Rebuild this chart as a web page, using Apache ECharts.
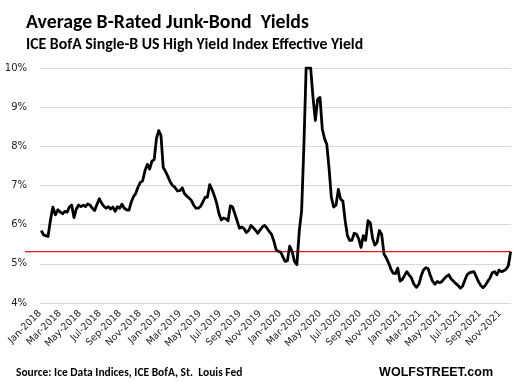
<!DOCTYPE html>
<html><head><meta charset="utf-8">
<script src="https://cdn.jsdelivr.net/npm/echarts@6/dist/echarts.min.js"></script>
<style>html,body{margin:0;padding:0;background:#fff}#c{width:518px;height:383px}</style>
</head><body><div id="c"></div>
<script>
// Weekly observations starting 2018-01-05 (one value per week)
const startDate = [2018, 0, 5];
const yields = [
5.85,5.74,5.72,5.70,6.10,6.45,6.25,6.38,6.32,6.28,
6.34,6.32,6.45,6.50,6.18,6.40,6.50,6.46,6.50,6.46,
6.53,6.50,6.42,6.36,6.52,6.66,6.55,6.47,6.42,6.46,
6.40,6.45,6.34,6.46,6.42,6.52,6.42,6.38,6.37,6.58,
6.72,6.80,6.96,7.08,7.12,7.38,7.54,7.42,7.62,7.66,
8.20,8.40,8.28,7.46,7.36,7.24,7.10,7.00,6.95,6.86,
6.87,6.94,6.79,6.73,6.68,6.62,6.50,6.42,6.42,6.47,
6.58,6.70,6.70,7.02,6.90,6.74,6.55,6.28,6.12,6.17,
6.15,6.10,6.48,6.45,6.28,6.10,5.91,5.94,5.90,5.80,
5.85,5.98,5.92,5.86,5.78,5.86,5.94,5.98,5.91,5.82,
5.75,5.58,5.36,5.32,5.30,5.18,5.06,5.08,5.45,5.32,
5.06,4.98,5.85,6.35,8.00,10.00,10.00,10.00,9.25,8.66,
9.20,9.25,8.45,8.20,8.05,7.45,6.70,6.45,6.50,6.90,
6.65,6.60,6.10,5.72,5.60,5.60,5.78,5.76,5.64,5.42,
5.72,5.60,6.10,6.05,5.65,5.48,5.55,5.85,5.75,5.25,
5.15,5.02,4.86,4.76,4.75,4.89,4.56,4.60,4.70,4.80,
4.72,4.64,4.48,4.40,4.48,4.70,4.85,4.90,4.88,4.70,
4.55,4.48,4.55,4.52,4.55,4.62,4.68,4.72,4.62,4.56,
4.50,4.45,4.38,4.43,4.58,4.72,4.77,4.79,4.80,4.68,
4.55,4.45,4.39,4.45,4.55,4.64,4.77,4.80,4.72,4.84,
4.80,4.82,4.86,4.95,5.31
];
const latestLevel = 5.31;
const xTickLabels = ['Jan-2018','Mar-2018','May-2018','Jul-2018','Sep-2018','Nov-2018',
'Jan-2019','Mar-2019','May-2019','Jul-2019','Sep-2019','Nov-2019',
'Jan-2020','Mar-2020','May-2020','Jul-2020','Sep-2020','Nov-2020',
'Jan-2021','Mar-2021','May-2021','Jul-2021','Sep-2021','Nov-2021'];
const yTicks = [4,5,6,7,8,9,10];

function monthIndex(d){
  const y=d.getUTCFullYear(), m=d.getUTCMonth(), day=d.getUTCDate();
  const dim = new Date(Date.UTC(y,m+1,0)).getUTCDate();
  return (y-2018)*12 + m + (day-1)/dim;
}
const seriesData = yields.map((v,i)=>{
  const d = new Date(Date.UTC(startDate[0], startDate[1], startDate[2]+7*i));
  return [monthIndex(d), v];
});

const chart = echarts.init(document.getElementById('c'), null, {renderer:'canvas'});
const titleFont = 'Carlito, Lato, sans-serif';
chart.setOption({
  animation:false,
  backgroundColor:'#fff',
  title:[
    {text:'Average B-Rated Junk-Bond  Yields', left:21, top:8,
     textStyle:{fontFamily:titleFont, fontWeight:'bold', fontSize:19.8, color:'#000'}},
    {text:'ICE BofA Single-B US High Yield Index Effective Yield', left:21, top:32,
     textStyle:{fontFamily:titleFont, fontWeight:'bold', fontSize:15.8, color:'#000'}},
    {text:'Source: Ice Data Indices, ICE BofA, St.  Louis Fed', left:11, top:362,
     textStyle:{fontFamily:titleFont, fontWeight:'bold', fontSize:11.5, color:'#000'}},
    {text:'WOLFSTREET.com', right:20, top:361,
     textStyle:{fontFamily:'Liberation Sans, Arial, sans-serif', fontWeight:'bold', fontSize:12.5, color:'#000'}}
  ],
  grid:[
    {left:40, right:7, top:68, bottom:80, containLabel:false},
    {left:25, right:7, top:68, bottom:80, containLabel:false}
  ],
  xAxis:[
    {type:'value', gridIndex:0, min:0, max:47.1, interval:2,
     axisLine:{show:false}, axisTick:{show:false}, splitLine:{show:false},
     axisLabel:{rotate:45, margin:9, fontFamily:'DejaVu Sans', fontSize:9.5, color:'#222',
       showMaxLabel:false,
       formatter:v=>{ const r=Math.round(v); return (Math.abs(v-r)<1e-6 && r%2===0 && xTickLabels[r/2]) ? xTickLabels[r/2] : ''; }}},
    {type:'value', gridIndex:1, min:0, max:1, show:false}
  ],
  yAxis:[
    {type:'value', gridIndex:0, min:yTicks[0], max:yTicks[yTicks.length-1], interval:1,
     axisLine:{show:false}, axisTick:{show:false},
     splitLine:{lineStyle:{color:'#d9d9d9', width:1}},
     axisLabel:{margin:13, fontFamily:'DejaVu Sans', fontSize:10, color:'#222', formatter:'{value}%'}},
    {type:'value', gridIndex:1, min:yTicks[0], max:yTicks[yTicks.length-1], show:false}
  ],
  series:[
    {type:'line', xAxisIndex:1, yAxisIndex:1, data:[[0,latestLevel],[1,latestLevel]],
     symbol:'none', lineStyle:{color:'#e8141c', width:1.2}, silent:true, z:1},
    {type:'line', xAxisIndex:0, yAxisIndex:0, data:seriesData, symbol:'none', clip:true,
     lineStyle:{color:'#000', width:2.8, join:'round'}, z:3}
  ]
});
</script></body></html>
